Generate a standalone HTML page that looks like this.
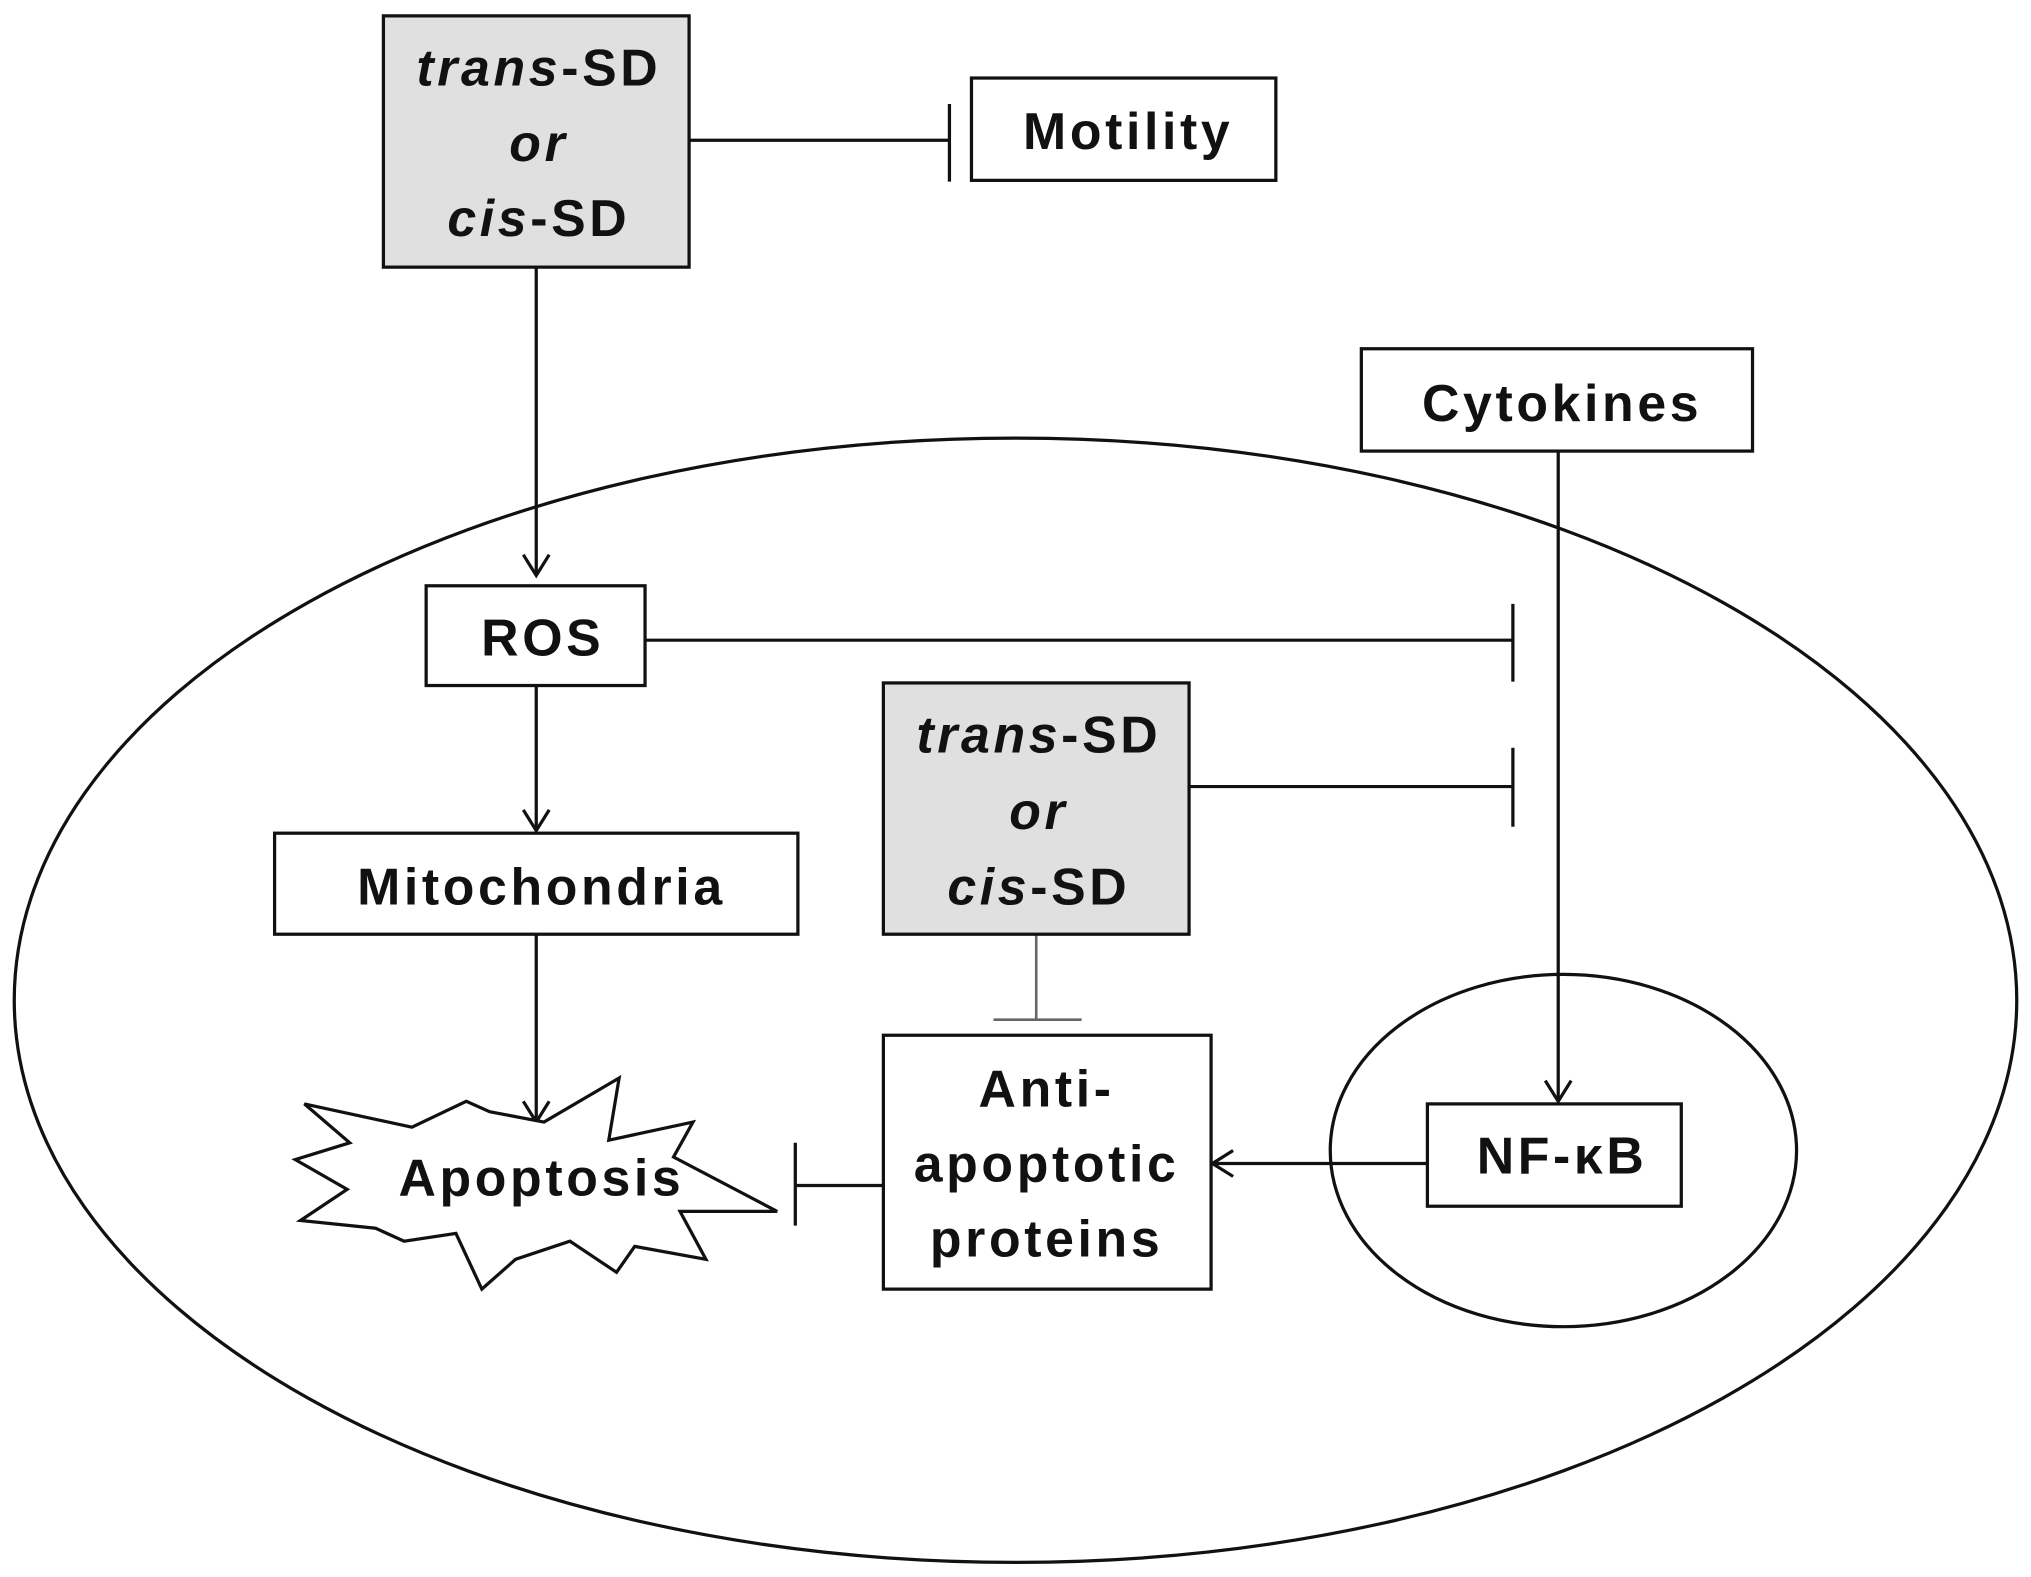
<!DOCTYPE html>
<html><head><meta charset="utf-8"><style>
html,body{margin:0;padding:0;background:#fff;}
svg{display:block;}
text{font-family:"Liberation Sans",sans-serif;font-weight:bold;font-size:40px;letter-spacing:2.8px;fill:#111;text-anchor:middle;dominant-baseline:central;}
</style></head><body>
<svg width="2031" height="1577" viewBox="0 0 1568 1217" xmlns="http://www.w3.org/2000/svg">
<g fill="none" stroke="#111" stroke-width="2.5">
<ellipse cx="784" cy="772" rx="773" ry="434"/>
<ellipse cx="1207" cy="888" rx="180" ry="136"/>
<line x1="532" y1="108" x2="733" y2="108"/>
<line x1="733" y1="80" x2="733" y2="140"/>
<line x1="414" y1="206" x2="414" y2="443"/>
<polyline points="404,428 414,444 424,428"/>
<line x1="1203" y1="348" x2="1203" y2="849"/>
<polyline points="1193,834 1203,850 1213,834"/>
<line x1="498" y1="494" x2="1168" y2="494"/>
<line x1="1168" y1="466" x2="1168" y2="526"/>
<line x1="414" y1="529" x2="414" y2="640"/>
<polyline points="404,625 414,641 424,625"/>
<line x1="414" y1="721" x2="414" y2="865"/>
<polyline points="404,850 414,866 424,850"/>
<line x1="918" y1="607" x2="1168" y2="607"/>
<line x1="1168" y1="577" x2="1168" y2="638"/>
<line x1="682" y1="915" x2="614" y2="915"/>
<line x1="614" y1="882" x2="614" y2="946"/>
<line x1="1102" y1="898" x2="937" y2="898"/>
<polyline points="952,888 936,898 952,908"/>
</g>
<g fill="none" stroke="#666" stroke-width="2">
<line x1="800" y1="721" x2="800" y2="787"/>
<line x1="767" y1="787" x2="835" y2="787"/>
</g>
<g stroke="#111" stroke-width="2.5">
<rect x="296" y="12" width="236" height="194" fill="#e0e0e0"/>
<rect x="750" y="60" width="235" height="79" fill="#fff"/>
<rect x="1051" y="269" width="302" height="79" fill="#fff"/>
<rect x="329" y="452" width="169" height="77" fill="#fff"/>
<rect x="212" y="643" width="404" height="78" fill="#fff"/>
<rect x="682" y="527" width="236" height="194" fill="#e0e0e0"/>
<rect x="682" y="799" width="253" height="196" fill="#fff"/>
<rect x="1102" y="852" width="196" height="79" fill="#fff"/>
<polygon fill="#fff" points="235,852 318,870 360,850 378,858 420,866 478,832 470,880 535,866 520,893 600,935 525,935 545,972 490,962 476,982 440,958 398,972 372,995 352,952 312,958 290,948 232,942 268,918 228,895 270,882"/>
</g>
<text x="416" y="52"><tspan font-style="italic">trans</tspan>-SD</text>
<text x="416" y="110" font-style="italic">or</text>
<text x="416" y="168"><tspan font-style="italic">cis</tspan>-SD</text>
<text x="871" y="101">Motility</text>
<text x="1206" y="311">Cytokines</text>
<text x="419" y="492">ROS</text>
<text x="418" y="684">Mitochondria</text>
<text x="802" y="567"><tspan font-style="italic">trans</tspan>-SD</text>
<text x="802" y="626" font-style="italic">or</text>
<text x="802" y="684"><tspan font-style="italic">cis</tspan>-SD</text>
<text x="808" y="840">Anti-</text>
<text x="808" y="898">apoptotic</text>
<text x="808" y="956">proteins</text>
<text x="1206" y="892">NF-κB</text>
<text x="418" y="909">Apoptosis</text>
</svg>
</body></html>
